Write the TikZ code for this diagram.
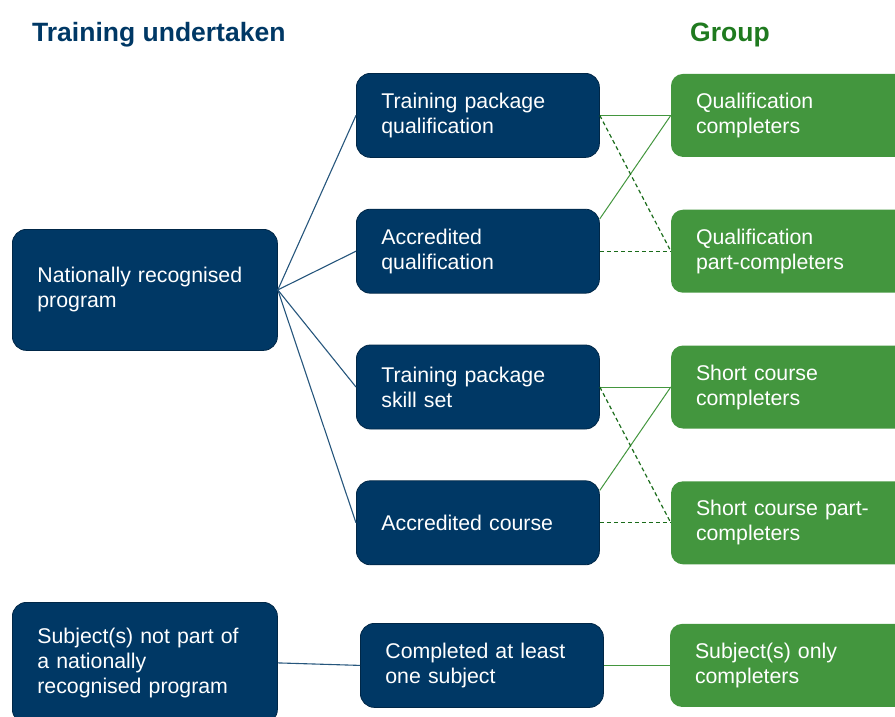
\documentclass[tikz,border=0pt]{standalone}
\usepackage{fontspec}
\setmainfont{Liberation Sans}
\usetikzlibrary{positioning}
\definecolor{navy}{HTML}{003865}
\definecolor{leaf}{HTML}{43963E}
\definecolor{forest}{HTML}{1F7A1F}
\definecolor{pine}{HTML}{1A6B1A}

\begin{document}
\begin{tikzpicture}[x=1pt, y=-1pt,
    node distance=51pt and 71pt,
box/.style = {rounded corners=14pt, text=white, align=left, inner xsep=25pt,
              inner ysep=0pt, font=\fontsize{21.3}{25}\selectfont},
nbox/.style = {box, fill=navy, draw=navy!70!black, line width=0.8pt,
               text width=193pt, minimum height=84pt},
wide/.style = {text width=215pt, minimum height=121pt},
gbox/.style = {box, fill=leaf, rounded corners=12pt,
               text width=190pt, minimum height=83pt},
heading/.style = {font=\fontsize{26.5}{30}\selectfont\bfseries,
                  anchor=base west, inner sep=0pt},
navyline/.style = {draw=navy!85!white, line width=1.1pt},
gline/.style = {draw=leaf, line width=1pt},
dline/.style = {draw=pine, line width=1.2pt, dash pattern=on 4pt off 3pt}
                        ]
\useasboundingbox (0,0) rectangle (895,716);
\node (tu)  [heading, text=navy]   at (32,41)  {Training undertaken};
\node (grp) [heading, text=forest] at (690,41) {Group};
%
\node (nrp)  [nbox, wide, anchor=north west] at (12,229) {Nationally recognised\\ program};
\node (tpq)  [nbox, anchor=north west] at (356,73) {Training package\\ qualification};
\node (aq)   [nbox, below=of tpq]  {Accredited\\ qualification};
\node (tpss) [nbox, below=of aq]   {Training package\\ skill set};
\node (ac)   [nbox, below=of tpss] {Accredited course};
%
\node (qc)   [gbox, right=of tpq]  {Qualification\\ completers};
\node (qpc)  [gbox, right=of aq]   {Qualification\\ part-completers};
\node (scc)  [gbox, right=of tpss] {Short course\\ completers};
\node (scpc) [gbox, right=of ac]   {Short course part-\\ completers};
%
\node (sub) [nbox, wide, anchor=north west] at (12,602)
            {Subject(s) not part of\\ a nationally\\ recognised program};
\node (one) [nbox, anchor=north west] at (360,623) {Completed at least\\ one subject};
\node (soc) [gbox, right=66pt of one] {Subject(s) only\\ completers};
%
\foreach \n in {tpq, aq, tpss, ac}
    \draw[navyline] (nrp.east) -- (\n.west);
\foreach \a/\b/\c/\d in {tpq/aq/qc/qpc, tpss/ac/scc/scpc}
{
\draw[gline] (\a.east) -- (\c.west);
\draw[gline] ([yshift=-10pt] \b.north east) -- (\c.west);
\draw[dline] (\a.east) -- (\d.west);
\draw[dline] (\b.east) -- (\d.west);
}
\draw[navyline] (sub.east) -- (one.west);
\draw[gline]    (one.east) -- (soc.west);
    \end{tikzpicture}
\end{document}
